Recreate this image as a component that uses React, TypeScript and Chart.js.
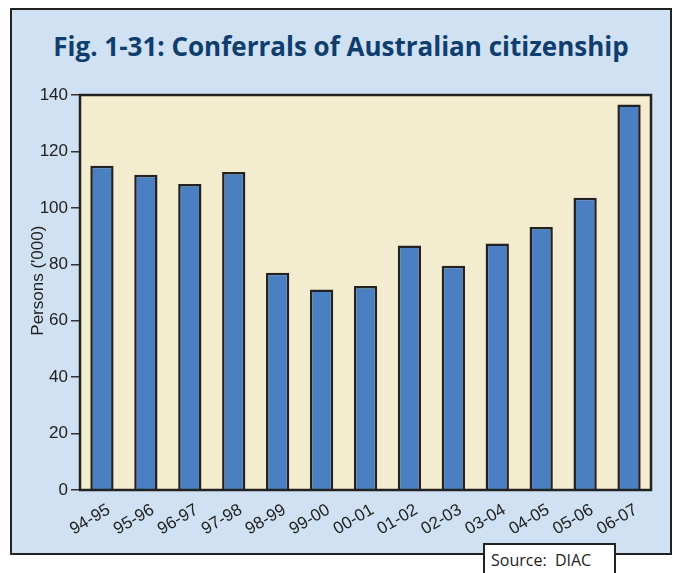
import React, { useEffect, useRef } from "react";
import { Chart, registerables } from "chart.js";

Chart.register(...registerables);

const categories = ["94-95", "95-96", "96-97", "97-98", "98-99", "99-00", "00-01", "01-02", "02-03", "03-04", "04-05", "05-06", "06-07"];
const conferrals = [114.9, 111.7, 108.5, 112.7, 77.0, 71.1, 72.3, 86.7, 79.5, 87.4, 93.2, 103.6, 136.6];
const yMin = 0;
const yMax = 140;
const yStep = 20;
const titleText = "Fig. 1-31: Conferrals of Australian citizenship";
const yAxisTitle = "\u00a0\u00a0\u00a0\u00a0\u00a0Persons ('000)";
const sourceText = "Source:\u00a0\u00a0DIAC";

const plotFrame = {
  id: "plotFrame",
  beforeDraw(chart: any) {
    const { ctx, chartArea: a } = chart;
    ctx.save();
    ctx.fillStyle = "#f3ecce";
    ctx.fillRect(a.left, a.top, a.right - a.left, a.bottom - a.top);
    ctx.restore();
  },
  afterDatasetsDraw(chart: any) {
    const { ctx, chartArea: a } = chart;
    ctx.save();
    ctx.strokeStyle = "#222222";
    ctx.lineWidth = 2.5;
    ctx.strokeRect(a.left, a.top, a.right - a.left, a.bottom - a.top);
    ctx.restore();
  },
};

export default function App() {
  const ref = useRef<HTMLCanvasElement | null>(null);

  useEffect(() => {
    document.body.style.margin = "0";
    const canvas = ref.current;
    if (!canvas) return;
    const chart = new Chart(canvas, {
      type: "bar",
      data: {
        labels: categories,
        datasets: [
          {
            data: conferrals,
            backgroundColor: "#4a80c2",
            borderColor: "#222222",
            borderWidth: 2.5,
            categoryPercentage: 1,
            barPercentage: 0.53,
          },
        ],
      },
      options: {
        responsive: false,
        animation: false,
        layout: { padding: { left: 0, top: 95, right: 22, bottom: 0 } },
        plugins: {
          legend: { display: false },
          tooltip: { enabled: false },
        },
        scales: {
          x: {
            grid: { display: false, drawTicks: false },
            border: { display: false },
            ticks: {
              autoSkip: false,
              minRotation: 30,
              maxRotation: 30,
              padding: 10,
              labelOffset: 7,
              color: "#222222",
              font: { family: "'Liberation Sans', Arial, sans-serif", size: 17 },
            },
            afterFit(scale: any) {
              scale.height = 83;
            },
          },
          y: {
            min: yMin,
            max: yMax,
            grid: { drawOnChartArea: false, drawTicks: true, tickLength: 9, color: "#333333", lineWidth: 1.5 },
            border: { display: false },
            ticks: {
              stepSize: yStep,
              padding: 3,
              color: "#222222",
              font: { family: "'Liberation Sans', Arial, sans-serif", size: 17 },
            },
            title: {
              display: true,
              text: yAxisTitle,
              color: "#222222",
              padding: { top: 28, bottom: 0 },
              font: { family: "'Liberation Sans', Arial, sans-serif", size: 17 },
            },
            afterFit(scale: any) {
              scale.width = 80;
            },
          },
        },
      },
      plugins: [plotFrame],
    });
    return () => chart.destroy();
  }, []);

  return (
    <div style={{ position: "relative", width: 673, height: 573, overflow: "hidden" }}>
      <div
        style={{
          position: "absolute",
          left: 10,
          top: 8,
          width: 658,
          height: 543,
          border: "2px solid #222222",
          background: "#cfe1f2",
        }}
      />
      <div
        style={{
          position: "absolute",
          left: 10,
          top: 29,
          width: 662,
          textAlign: "center",
          fontFamily: "'Open Sans', sans-serif",
          fontWeight: 700,
          fontSize: 26,
          color: "#0e3d6e",
          lineHeight: "34px",
        }}
      >
        {titleText}
      </div>
      <canvas ref={ref} width={673} height={573} style={{ position: "absolute", left: 0, top: 0 }} />
      <div
        style={{
          position: "absolute",
          left: 483,
          top: 543,
          width: 133,
          height: 40,
          border: "2px solid #222222",
          background: "#ffffff",
          fontFamily: "'Open Sans', sans-serif",
          fontSize: 16,
          color: "#222222",
          paddingLeft: 6,
          paddingTop: 5,
          boxSizing: "border-box",
          lineHeight: "20px",
        }}
      >
        {sourceText}
      </div>
    </div>
  );
}
